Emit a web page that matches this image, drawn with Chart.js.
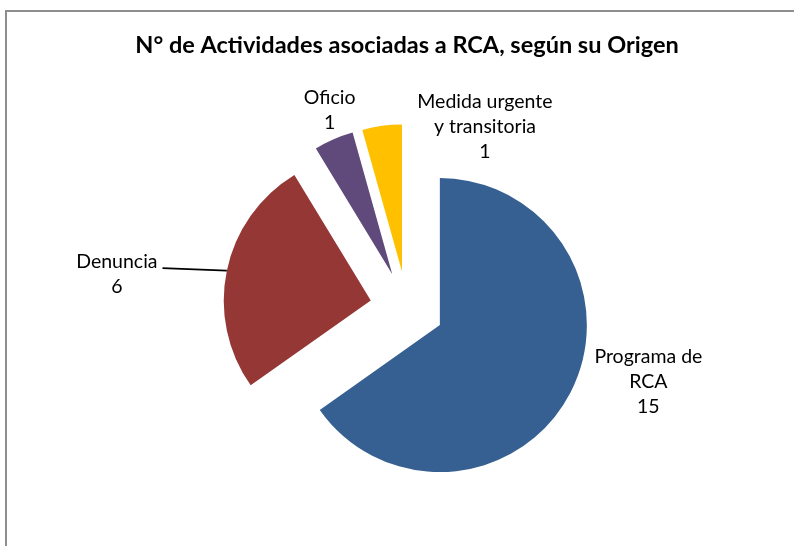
<!DOCTYPE html>
<html><head><meta charset="utf-8">
<script src="https://cdn.jsdelivr.net/npm/chart.js@4"></script>
<style>
html,body{margin:0;padding:0;background:#fff;}
#wrap{position:relative;width:794px;height:546px;overflow:hidden;}
#frame{position:absolute;left:5px;top:10px;width:820px;height:600px;border-left:2px solid #8e8e8e;border-top:2px solid #8e8e8e;}
canvas{position:absolute;left:0;top:0;}
</style></head><body>
<div id="wrap"><div id="frame"></div><canvas id="c" width="794" height="546"></canvas></div>
<script>
const titleText = 'N° de Actividades asociadas a RCA, según su Origen';
const categories = ['Programa de RCA', 'Denuncia', 'Oficio', 'Medida urgente y transitoria'];
const values = [15, 6, 1, 1];
const labelLines = [['Programa de', 'RCA'], ['Denuncia'], ['Oficio'], ['Medida urgente', 'y transitoria']];
const colors = ['#376092', '#953735', '#604A7B', '#FFC000'];

// style settings
const EXPLODE = 37;
const RADIUS = 147;
const LABEL_FONT = '19.5px Lato';
const LINE_H = 25;
const labelOffsets = [[78, -11], [-110, 4], [-4, -29], [103, 1]];
const leaders = [false, true, false, false];

const explodePlugin = {
  id: 'explode',
  beforeDatasetDraw(chart, args) {
    const ctx = chart.ctx;
    args.meta.data.forEach(arc => {
      const mid = (arc.startAngle + arc.endAngle) / 2;
      ctx.save();
      ctx.translate(Math.cos(mid) * EXPLODE, Math.sin(mid) * EXPLODE);
      arc.draw(ctx);
      ctx.restore();
    });
    return false;
  }
};

const labelPlugin = {
  id: 'pieLabels',
  afterDraw(chart) {
    const ctx = chart.ctx;
    const meta = chart.getDatasetMeta(0);
    ctx.save();
    ctx.font = LABEL_FONT;
    ctx.fillStyle = '#000';
    ctx.textAlign = 'center';
    ctx.textBaseline = 'middle';
    meta.data.forEach((arc, i) => {
      const mid = (arc.startAngle + arc.endAngle) / 2;
      const cx = arc.x + Math.cos(mid) * EXPLODE;
      const cy = arc.y + Math.sin(mid) * EXPLODE;
      const ox = cx + Math.cos(mid) * arc.outerRadius;
      const oy = cy + Math.sin(mid) * arc.outerRadius;
      const lx = ox + labelOffsets[i][0];
      const ly = oy + labelOffsets[i][1];
      const lines = labelLines[i].concat([String(values[i])]);
      const y0 = ly - (lines.length - 1) * LINE_H / 2;
      lines.forEach((t, k) => ctx.fillText(t, lx, y0 + k * LINE_H));
      if (leaders[i]) {
        const w = ctx.measureText(lines[0]).width;
        ctx.beginPath();
        ctx.strokeStyle = '#000';
        ctx.lineWidth = 1.8;
        ctx.moveTo(lx + w / 2 + 5, y0 + 6);
        ctx.lineTo(ox, oy);
        ctx.stroke();
      }
    });
    ctx.restore();
  }
};

Chart.defaults.font.family = 'Lato';
new Chart(document.getElementById('c'), {
  type: 'pie',
  data: {
    labels: categories,
    datasets: [{
      data: values,
      backgroundColor: colors,
      borderWidth: 0
    }]
  },
  options: {
    responsive: false,
    animation: false,
    events: [],
    radius: RADIUS,
    layout: { padding: { left: 20, right: 0, top: 10, bottom: 20 } },
    plugins: {
      legend: { display: false },
      tooltip: { enabled: false },
      title: {
        display: true,
        text: titleText,
        color: '#000',
        font: { size: 23.5, weight: 'bold', family: 'Lato' },
        padding: { top: 21, bottom: 31 }
      }
    }
  },
  plugins: [explodePlugin, labelPlugin]
});
</script>
</body></html>
